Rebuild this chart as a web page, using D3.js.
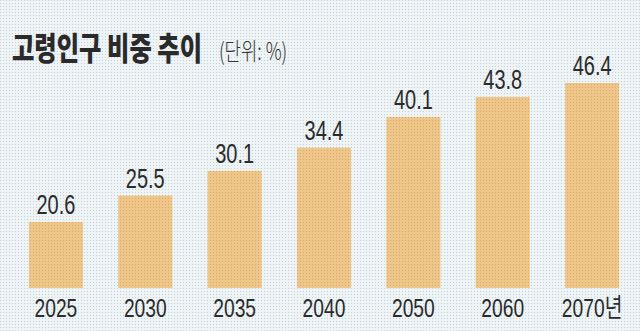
<!DOCTYPE html>
<html><head><meta charset="utf-8">
<script src="https://cdn.jsdelivr.net/npm/d3@7"></script>
<style>html,body{margin:0;padding:0;background:#e9eff1;}svg{display:block;}</style>
</head><body>
<script>
const categories = ["2025","2030","2035","2040","2050","2060","2070"];
const values = [20.6, 25.5, 30.1, 34.4, 40.1, 43.8, 46.4];
const valueLabels = ["20.6","25.5","30.1","34.4","40.1","43.8","46.4"];
const tickLabels = ["2025","2030","2035","2040","2050","2060","2070년"];
const title = "고령인구 비중 추이";
const unit = "(단위: %)";

const W = 640, H = 331;
const svg = d3.select("body").append("svg").attr("width", W).attr("height", H);
const defs = svg.append("defs");
const bg = defs.append("pattern").attr("id","bgdots").attr("width",3).attr("height",3).attr("patternUnits","userSpaceOnUse");
bg.append("rect").attr("width",3).attr("height",3).attr("fill","#eef3f5");
bg.append("rect").attr("width",1).attr("height",1).attr("fill","#c6d1d6");
const bp = defs.append("pattern").attr("id","bardots").attr("width",3).attr("height",3).attr("patternUnits","userSpaceOnUse");
bp.append("rect").attr("width",3).attr("height",3).attr("fill","#efc68a");
bp.append("rect").attr("width",1).attr("height",1).attr("fill","#d9aa68");

svg.append("rect").attr("width",W).attr("height",H).attr("fill","url(#bgdots)");

const x = d3.scaleBand().domain(categories).range([11, 637]).paddingInner(0.395).paddingOuter(0.2);
const y = d3.scaleLinear().domain([8.35, 46.4]).range([288, 83]);

svg.append("g").selectAll("rect").data(values).join("rect")
  .attr("x", (d,i) => x(categories[i]))
  .attr("width", x.bandwidth())
  .attr("y", d => y(d))
  .attr("height", d => y(y.domain()[0]) - y(d))
  .attr("fill", "url(#bardots)");

const numFont = "'Liberation Sans', Arial, sans-serif";
function ctext(g, tx, ty, str, size, sx, opts={}) {
  const gg = g.append("g").attr("transform", `translate(${tx},${ty})`);
  const t = gg.append("text").attr("transform", `scale(${sx},1)`)
    .attr("text-anchor", opts.anchor || "middle")
    .attr("font-family", opts.family || numFont)
    .attr("font-size", size)
    .attr("font-weight", opts.weight || "normal")
    .attr("fill", opts.fill || "#2b2b2b")
    .text(str);
  return t;
}

const lg = svg.append("g");
values.forEach((v,i) => {
  ctext(lg, x(categories[i]) + x.bandwidth()/2, y(v) - 8, valueLabels[i], 27, 0.74);
});
const tg = svg.append("g");
categories.forEach((c,i) => {
  ctext(tg, x(c) + x.bandwidth()/2, 317, tickLabels[i], 26, 0.74, {family: "'Liberation Sans', 'Noto Sans CJK KR', sans-serif"});
});

ctext(svg, 12, 60, title, 32, 0.76, {anchor:"start", family:"'Noto Sans CJK KR', sans-serif", weight:"900", fill:"#2a2a2a"});
ctext(svg, 219, 60, unit, 24, 0.74, {anchor:"start", family:"'Noto Sans CJK KR', sans-serif", weight:"300", fill:"#333"});
</script>
</body></html>
